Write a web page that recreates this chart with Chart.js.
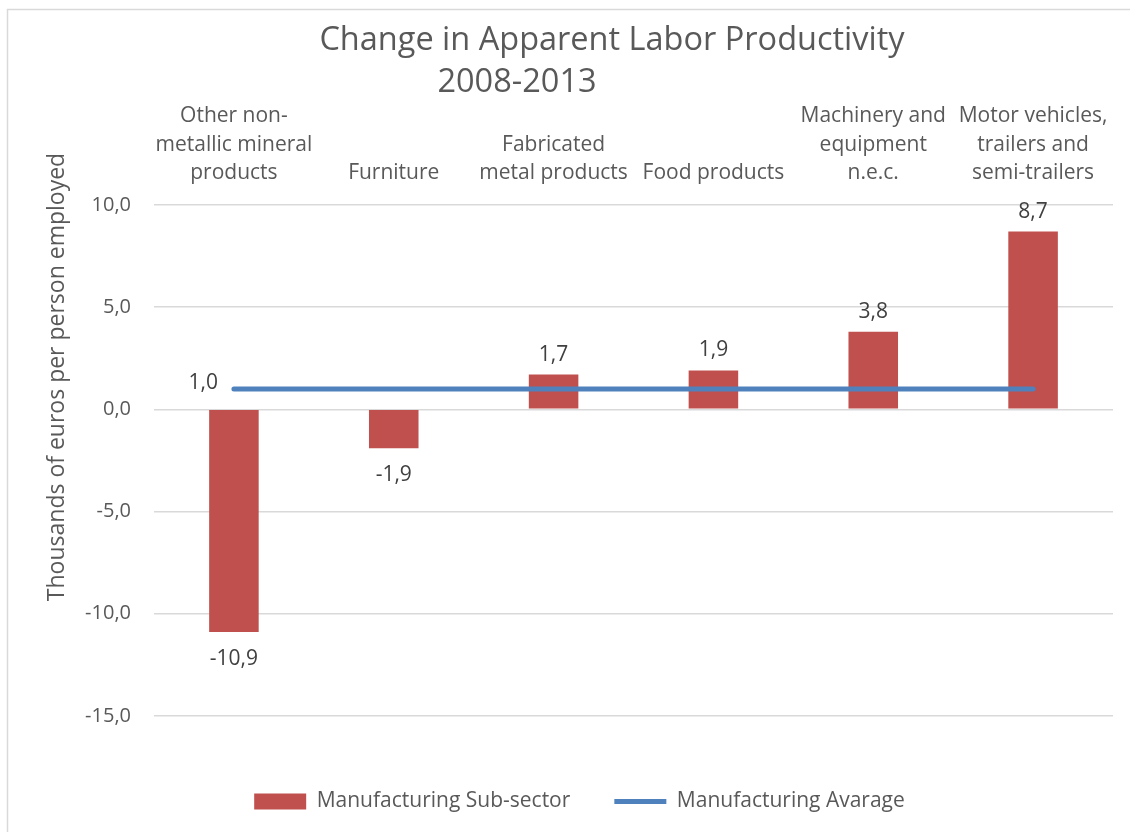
<!doctype html>
<html lang="en">
  <head>
    <meta charset="utf-8" />
    <title>Change in Apparent Labor Productivity</title>
    <script src="https://cdn.jsdelivr.net/npm/chart.js/dist/chart.umd.min.js"></script>
    <style>
      body { margin: 0; background: #fff; }
      .chartBox { width: 1130px; height: 832px; }
    </style>
  </head>
  <body>
    <div class="chartBox">
      <canvas id="myChart"></canvas>
    </div>
    <script>
      const categories = [
        ["Other non-", "metallic mineral", "products"],
        "Furniture",
        ["Fabricated", "metal products"],
        "Food products",
        ["Machinery and", "equipment", "n.e.c."],
        ["Motor vehicles,", "trailers and", "semi-trailers"],
      ];
      const subSector = [-10.9, -1.9, 1.7, 1.9, 3.8, 8.7];
      const average = [1.0, 1.0, 1.0, 1.0, 1.0, 1.0];
      const titleLines = ["Change in Apparent Labor Productivity", "2008-2013"];
      const yTitle = "Thousands of euros per person employed";

      const FONT = "'Open Sans', sans-serif";
      const GREY = "#595959";
      const fmt = (v) => v.toFixed(1).replace(".", ",");

      // title, axis title, frame and value labels
      const extras = {
        id: "extras",
        beforeDraw(chart) {
          const { ctx } = chart;
          ctx.save();
          ctx.strokeStyle = "#d9d9d9";
          ctx.lineWidth = 1.5;
          ctx.strokeRect(7.5, 9.5, 1300, 1000);
          ctx.restore();
        },
        afterDraw(chart) {
          const { ctx } = chart;
          ctx.save();
          ctx.fillStyle = GREY;
          ctx.textBaseline = "middle";
          ctx.textAlign = "center";
          ctx.font = "32.5px " + FONT;
          ctx.fillText(titleLines[0], 612, 41);
          ctx.fillText(titleLines[1], 517, 83);

          ctx.save();
          ctx.translate(57, 377);
          ctx.rotate(-Math.PI / 2);
          ctx.font = "23px " + FONT;
          ctx.fillText(yTitle, 0, 0);
          ctx.restore();

          ctx.font = "21px " + FONT;
          ctx.fillStyle = "#404040";
          const bars = chart.getDatasetMeta(0).data;
          bars.forEach((bar, i) => {
            const v = subSector[i];
            const y = v >= 0 ? bar.y - 20 : bar.y + 27;
            ctx.fillText(fmt(v), bar.x, y);
          });
          const pts = chart.getDatasetMeta(1).data;
          ctx.textAlign = "right";
          ctx.fillText(fmt(average[0]), pts[0].x - 16, pts[0].y - 6);
          ctx.restore();
        },
      };

      const config = {
        type: "bar",
        data: {
          labels: categories,
          datasets: [
            {
              label: "Manufacturing Sub-sector",
              data: subSector,
              backgroundColor: "#c0504d",
              borderWidth: 0,
              barPercentage: 1,
              categoryPercentage: 0.31,
              pointStyle: "rect",
              order: 1,
            },
            {
              type: "line",
              label: "Manufacturing Avarage",
              data: average,
              borderColor: "#4f81bd",
              backgroundColor: "#4f81bd",
              borderWidth: 5,
              borderCapStyle: "round",
              pointRadius: 0,
              pointStyle: "line",
              order: 0,
            },
          ],
        },
        options: {
          responsive: true,
          maintainAspectRatio: false,
          animation: false,
          layout: { padding: { top: 0, left: 46, right: 17, bottom: 10 } },
          scales: {
            x: {
              position: "top",
              grid: { display: false, drawTicks: false },
              border: { display: false },
              ticks: {
                color: GREY,
                font: { family: FONT, size: 21, lineHeight: 1.38 },
                padding: 17,
                maxRotation: 0,
                autoSkip: false,
              },
              afterFit: (s) => { s.height = 205; },
            },
            y: {
              min: -15,
              max: 10,
              grid: { color: "#d9d9d9", lineWidth: 1.5, drawTicks: false },
              border: { display: false },
              ticks: {
                stepSize: 5,
                color: GREY,
                font: { family: FONT, size: 20 },
                padding: 23,
                callback: (v) => fmt(v),
              },
              afterFit: (s) => { s.width = 108; },
            },
          },
          plugins: {
            legend: {
              position: "bottom",
              title: { display: true, text: "", padding: { top: 30, bottom: 0 }, font: { size: 1 } },
              labels: {
                sort: (a, b) => a.datasetIndex - b.datasetIndex,
                usePointStyle: true,
                pointStyleWidth: 52,
                boxHeight: 16,
                color: GREY,
                font: { family: FONT, size: 21 },
                padding: 44,
              },
            },
            tooltip: { enabled: false },
          },
        },
        plugins: [extras],
      };

      const myChart = new Chart(document.getElementById("myChart"), config);
    </script>
  </body>
</html>
